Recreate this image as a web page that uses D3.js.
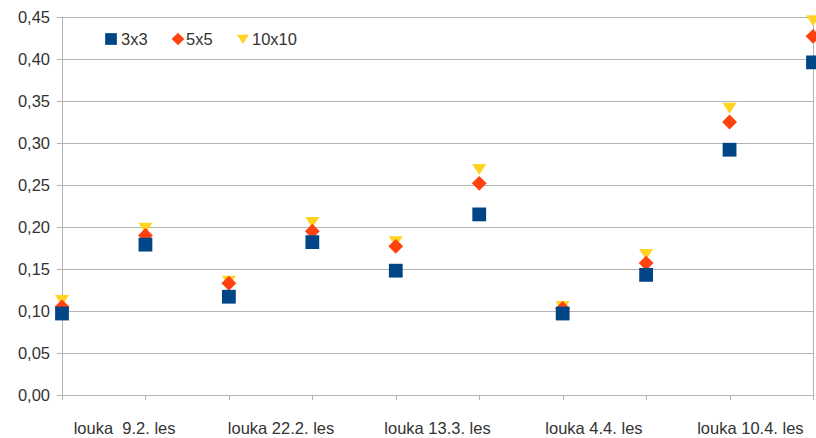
<!DOCTYPE html>
<html>
<head>
<meta charset="utf-8">
<script src="https://cdn.jsdelivr.net/npm/d3@7/dist/d3.min.js"></script>
<style>
  html, body { margin: 0; padding: 0; background: #fff; }
  svg { display: block; font-family: "Liberation Sans", Arial, sans-serif; }
</style>
</head>
<body>
<svg id="chart" width="816" height="438"></svg>
<script>
const categories = ["louka 9.2.", "les 9.2.", "louka 22.2.", "les 22.2.", "louka 13.3.", "les 13.3.", "louka 4.4.", "les 4.4.", "louka 10.4.", "les 10.4."];
const tickLabels = ["louka  9.2. les", "louka 22.2. les", "louka 13.3. les", "louka 4.4. les", "louka 10.4. les"];
const yTicks = [0, 0.05, 0.10, 0.15, 0.20, 0.25, 0.30, 0.35, 0.40, 0.45];
const seriesNames = ["3x3", "5x5", "10x10"];
const s3x3 = [0.097, 0.179, 0.117, 0.182, 0.148, 0.215, 0.097, 0.143, 0.292, 0.396];
const s5x5 = [0.105, 0.190, 0.133, 0.195, 0.177, 0.252, 0.103, 0.157, 0.325, 0.427];
const s10x10 = [0.113, 0.199, 0.136, 0.206, 0.183, 0.269, 0.106, 0.168, 0.342, 0.446];

const colors = ["#004586", "#ff420e", "#ffd320"];
const series = [s3x3, s5x5, s10x10];

const svg = d3.select("#chart");
const W = 816, H = 438;
const m = {left: 62, right: 3, top: 17, bottom: 43};
const FS = 16.5;

const x = d3.scalePoint().domain(categories).range([m.left, W - m.right]).padding(0);
const y = d3.scaleLinear().domain([0, 0.45]).range([H - m.bottom, m.top]);
const xl = d3.scalePoint().domain(tickLabels).range([m.left, W - m.right]).padding(0.4);

const fmt = v => d3.format(".2f")(v).replace(".", ",");

// gridlines
svg.append("g").selectAll("line").data(yTicks).join("line")
  .attr("x1", m.left).attr("x2", W - m.right)
  .attr("y1", d => y(d)).attr("y2", d => y(d))
  .attr("stroke", "#b3b3b3").attr("stroke-width", 1).attr("shape-rendering", "crispEdges");

// right border
svg.append("line").attr("x1", W - m.right).attr("x2", W - m.right)
  .attr("y1", y(0.45)).attr("y2", y(0))
  .attr("stroke", "#b3b3b3").attr("shape-rendering", "crispEdges");

// y axis
const yAxis = d3.axisLeft(y).tickValues(yTicks).tickFormat(fmt).tickSize(5).tickPadding(7);
const gy = svg.append("g").attr("transform", `translate(${m.left},0)`).call(yAxis);
gy.select(".domain").attr("stroke", "#b3b3b3").attr("shape-rendering", "crispEdges");
gy.selectAll(".tick line").attr("stroke", "#b3b3b3").attr("shape-rendering", "crispEdges");
gy.selectAll(".tick text").attr("font-size", FS).attr("fill", "#333").attr("font-family", "Liberation Sans, Arial, sans-serif");

// x axis
const xAxis = d3.axisBottom(x).tickSize(5).tickFormat("");
const gx = svg.append("g").attr("transform", `translate(0,${y(0)})`).call(xAxis);
gx.select(".domain").attr("stroke", "#b3b3b3").attr("shape-rendering", "crispEdges");
gx.selectAll(".tick line").attr("stroke", "#b3b3b3").attr("shape-rendering", "crispEdges");

// category group labels
svg.append("g").selectAll("text").data(tickLabels).join("text")
  .attr("x", d => xl(d))
  .attr("y", y(0) + 39)
  .attr("text-anchor", "middle")
  .attr("font-size", FS).attr("fill", "#333")
  .style("white-space", "pre")
  .text(d => d);

// markers
const sqr = d3.symbol().type(d3.symbolSquare).size(190);
const dia = d3.symbol().type(d3.symbolDiamond2).size(140);
const triDown = () => "M-7,-5L7,-5L0,6Z";

const g = svg.append("g");
[2, 1, 0].forEach(si => {
  g.append("g").selectAll("path").data(series[si]).join("path")
    .attr("transform", (d, i) => `translate(${x(categories[i])},${y(d)})`)
    .attr("d", si === 0 ? sqr() : si === 1 ? dia() : triDown())
    .attr("fill", colors[si]);
});

// legend
const legendItems = [
  {name: seriesNames[0], c: colors[0], shape: sqr(), lx: 111, tx: 121},
  {name: seriesNames[1], c: colors[1], shape: dia(), lx: 178, tx: 186},
  {name: seriesNames[2], c: colors[2], shape: triDown(), lx: 243, tx: 252}
];
const lg = svg.append("g");
legendItems.forEach(it => {
  lg.append("path").attr("d", it.shape).attr("fill", it.c)
    .attr("transform", `translate(${it.lx},39) scale(0.85)`);
  lg.append("text").attr("x", it.tx).attr("y", 45).attr("font-size", FS).attr("fill", "#333").text(it.name);
});
</script>
</body>
</html>
